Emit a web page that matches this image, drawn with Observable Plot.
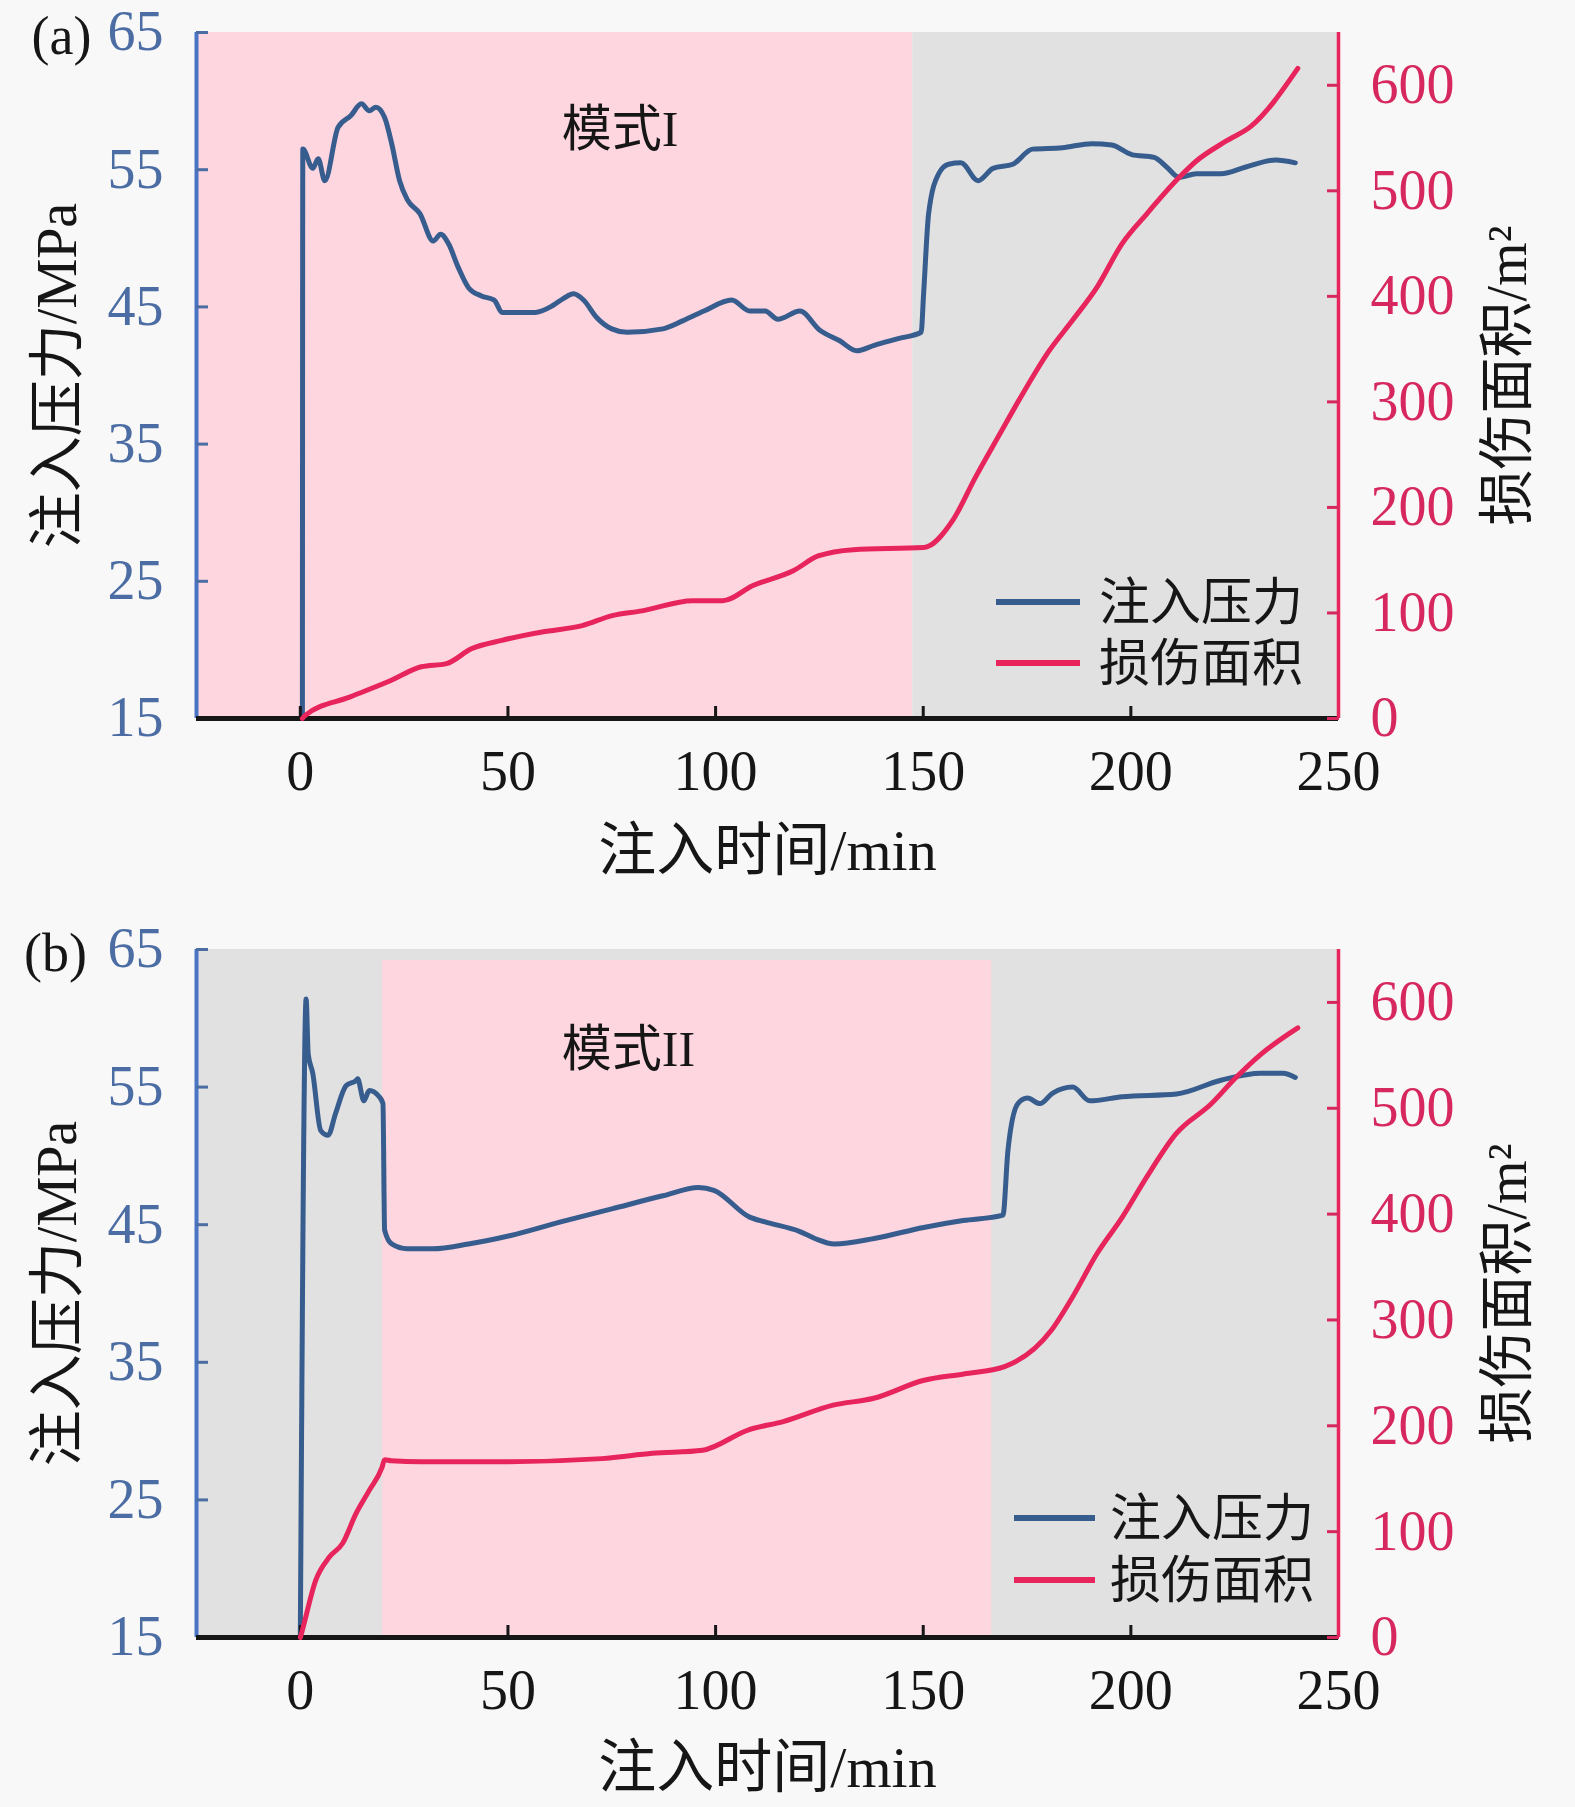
<!DOCTYPE html>
<html><head><meta charset="utf-8">
<script src="https://cdn.jsdelivr.net/npm/d3@7"></script>
<script src="https://cdn.jsdelivr.net/npm/@observablehq/plot@0.6"></script>
<style>
body{margin:0;background:#f8f8f8;}
.panel{position:relative;width:1575px;}
.panel svg{position:absolute;left:0;top:0;overflow:visible;}
</style></head><body>
<div id="pa" class="panel" style="height:900px"></div>
<div id="pb" class="panel" style="height:907px"></div>
<script>
// ---- data ----
const timeTicks = [0, 50, 100, 150, 200, 250];
const pressureTicks = [15, 25, 35, 45, 55, 65];
const areaTicks = [0, 100, 200, 300, 400, 500, 600];
const timeDomain = [-25, 250];
const pressureDomain = [15, 65];
const areaDomain = [0, 650];
const seriesNames = ["注入压力", "损伤面积"];

const pressureA_t = [0.5,0.6,3.0,4.3,5.9,9.1,12.2,14.7,16.6,18.2,20.3,22.0,23.9,25.8,28.8,32.0,33.8,35.7,38.0,40.5,43.6,46.7,48.6,56.5,60.8,63.3,65.8,68.2,71.3,75.0,78.7,87.3,92.2,97.2,103.9,108.2,111.9,115.0,120.3,125.1,129.8,134.0,138.2,144.2,149.5,150.1,151.3,153.7,156.1,159.1,163.2,166.8,171.6,176.3,183.5,190.6,195.4,200.2,205.6,208.6,211.6,215.8,221.7,227.7,234.8,239.6];
const pressureA_v = [15,56.5,55.1,55.8,54.2,58.1,58.95,59.8,59.3,59.55,58.8,56.9,54.2,52.8,51.8,49.8,50.3,49.6,47.9,46.4,45.8,45.5,44.6,44.6,45.1,45.6,45.95,45.5,44.25,43.4,43.15,43.4,44.0,44.7,45.5,44.7,44.7,44.1,44.7,43.3,42.55,41.8,42.2,42.7,43.15,46,51.8,54.7,55.4,55.5,54.2,55.1,55.4,56.5,56.6,56.9,56.8,56.1,55.9,55.2,54.45,54.7,54.7,55.2,55.7,55.5];
const areaA_t = [0.5,1.2,12.0,21.8,29.1,35.2,41.2,48.5,58.2,67.9,75.1,82.3,94.5,101.7,109.0,118.7,124.7,133.2,150.1,157.3,162.5,168.5,174.0,179.9,185.9,191.9,197.9,203.8,211.6,215.7,222.9,228.9,240.2];
const areaA_v = [0,3,20.5,36,49,52,66,74,82,88,97.5,102,111.6,111.6,126,140,154,160,162,189,228,270,308,346,377,409,450,478,512.5,528,547,561,616];

const pressureB_t = [0,1.4,1.9,3.0,4.9,6.7,8.5,11.0,13.5,13.8,15.3,16.6,19.0,19.9,20.3,22.0,25.7,31.9,40.5,50.4,62.7,75.0,87.3,95.9,99.6,108.2,111.9,120.3,123.9,128.6,138.2,150.1,159.6,169.2,170.4,172.8,175.1,178.1,181.1,186.0,190.1,197.9,211.0,221.7,231.3,236.6,239.6];
const pressureB_v = [15,61.4,57.4,56.0,51.85,51.5,53.1,55.1,55.5,55.6,54.0,54.75,54.3,53.8,44.6,43.6,43.25,43.25,43.6,44.2,45.2,46.15,47.1,47.7,47.5,45.55,45.2,44.5,44.0,43.6,44.0,44.8,45.3,45.7,50.4,53.8,54.2,53.8,54.55,55.0,54.0,54.3,54.5,55.5,56.0,56.0,55.7];
const areaB_t = [0,0.5,3.7,7.0,10.2,13.4,16.6,19.7,20.3,21.9,29.1,48.5,72.6,84.8,96.9,107.8,116.3,128.3,138.1,150.2,159.8,169.6,180.8,186.0,191.9,197.9,203.8,210.9,219.3,225.3,231.3,240.2];
const areaB_v = [0,7,54,76,89,117,139,161,168,167,166,166,169,174,177,196,204,219.5,226,243,249,256,290,322,363,397,435,476,504,529,551,576];

// shaded phases (time ranges)
const phaseA_start = [-25, 147.5];
const phaseA_end = [147.5, 250];
const phaseA_kind = ["mode", "other"];
const phaseA_top = [65, 65];
const phaseB_start = [-25, 19.8];
const phaseB_end = [250, 166.5];
const phaseB_kind = ["other", "mode"];
const phaseB_top = [65, 64.2];

const modeLabelA = {t: 77, p: 57.9, text: "模式I"};
const modeLabelB = {t: 79, p: 57.7, text: "模式II"};

// ---- style ----
const FONT = "'Liberation Serif','Times New Roman','Noto Sans CJK SC',serif";
const C = {
  mode: "#fdd6e0", other: "#e1e1e1",
  pressure: "#375c8e", area: "#e8245c",
  leftAxis: "#4a74c4", leftText: "#4c6da3",
  rightAxis: "#e8245c", rightText: "#d6285e", ink: "#161616"
};
const W = 1575, ML = 196, MR = 237;

function zipTV(ts, vs) { return ts.map((t, i) => ({t, v: vs[i]})); }
function phases(s, e, k, top) { return s.map((d, i) => ({from: d, to: e[i], kind: k[i], top: top[i]})); }

function legendMark(L) {
  return (index, scales, values, dims) => {
    const g = d3.create("svg:g").attr("font-family", FONT);
    const right = dims.width - dims.marginRight;
    const bottom = dims.height - dims.marginBottom;
    [C.pressure, C.area].forEach((col, i) => {
      const y = bottom - L.rows[i];
      g.append("line").attr("x1", right - L.x1).attr("x2", right - L.x2)
        .attr("y1", y).attr("y2", y).attr("stroke", col).attr("stroke-width", 6);
      g.append("text").attr("x", right - L.tx).attr("y", y).attr("dy", "0.36em")
        .attr("text-anchor", "start")
        .attr("font-size", 51).attr("fill", C.ink).text(seriesNames[i]);
    });
    return g.node();
  };
}

function drawPanel(el, cfg) {
  const common = {
    width: W, height: cfg.height, marginLeft: ML, marginRight: MR,
    marginTop: cfg.mt, marginBottom: cfg.mb,
    style: {background: "transparent", fontFamily: FONT, overflow: "visible"}
  };
  const base = Plot.plot({
    ...common,
    x: {domain: timeDomain},
    y: {domain: pressureDomain},
    marks: [
      Plot.rect(cfg.phases, {x1: "from", x2: "to", y1: () => pressureDomain[0], y2: "top", fill: d => C[d.kind]}),
      Plot.line(cfg.pressure, {x: "t", y: "v", stroke: C.pressure, strokeWidth: 5, curve: "monotone-x"}),
      Plot.text([cfg.mode], {x: "t", y: "p", text: "text", fontSize: 50, fill: C.ink}),
      Plot.ruleX([timeDomain[0]], {stroke: C.leftAxis, strokeWidth: 4}),
      Plot.axisY(pressureTicks, {anchor: "left", tickSize: -12, tickPadding: 45, fontSize: 56, color: C.leftText, strokeWidth: 3, label: null}),
      Plot.axisX(timeTicks, {anchor: "bottom", tickSize: -12, tickPadding: 44, fontSize: 56, color: C.ink, strokeWidth: 3, label: null}),
      Plot.ruleY([pressureDomain[0]], {stroke: C.ink, strokeWidth: 5}),
      Plot.text(["注入压力/MPa"], {frameAnchor: "left", dx: -138, rotate: -90, fontSize: 56, fill: C.ink, textAnchor: "middle", lineAnchor: "middle"}),
      Plot.text(["注入时间/min"], {frameAnchor: "bottom", dy: cfg.xTitleDy, fontSize: 58, fill: C.ink, textAnchor: "middle", lineAnchor: "middle"}),
      Plot.text([cfg.tag], {frameAnchor: "top-left", dx: cfg.tagDx, dy: 4, fontSize: 54, fill: C.ink, textAnchor: "middle", lineAnchor: "middle"})
    ]
  });
  const over = Plot.plot({
    ...common,
    x: {domain: timeDomain, axis: null},
    y: {domain: areaDomain, axis: null},
    marks: [
      Plot.line(cfg.area, {x: "t", y: "v", stroke: C.area, strokeWidth: 5, curve: "monotone-x"}),
      Plot.ruleX([timeDomain[1]], {stroke: C.rightAxis, strokeWidth: 3.5}),
      Plot.axisY(areaTicks, {anchor: "right", tickSize: -12, tickPadding: 44, fontSize: 56, color: C.rightText, strokeWidth: 3, label: null}),
      Plot.text(["损伤面积/m²"], {frameAnchor: "right", dx: 170, rotate: -90, fontSize: 56, fill: C.ink, textAnchor: "middle", lineAnchor: "middle"}),
      legendMark(cfg.legend)
    ]
  });
  el.append(base, over);
}

drawPanel(document.getElementById("pa"), {
  height: 900, mt: 32, mb: 182, xTitleDy: 133, tag: "(a)", tagDx: -135,
  phases: phases(phaseA_start, phaseA_end, phaseA_kind, phaseA_top),
  pressure: zipTV(pressureA_t, pressureA_v), area: zipTV(areaA_t, areaA_v),
  mode: modeLabelA,
  legend: {x1: 342, x2: 258, tx: 239, rows: [116, 55]}
});
drawPanel(document.getElementById("pb"), {
  height: 907, mt: 49, mb: 170, xTitleDy: 131, tag: "(b)", tagDx: -141,
  phases: phases(phaseB_start, phaseB_end, phaseB_kind, phaseB_top),
  pressure: zipTV(pressureB_t, pressureB_v), area: zipTV(areaB_t, areaB_v),
  mode: modeLabelB,
  legend: {x1: 324, x2: 243, tx: 228, rows: [119, 57]}
});
</script>
</body></html>
